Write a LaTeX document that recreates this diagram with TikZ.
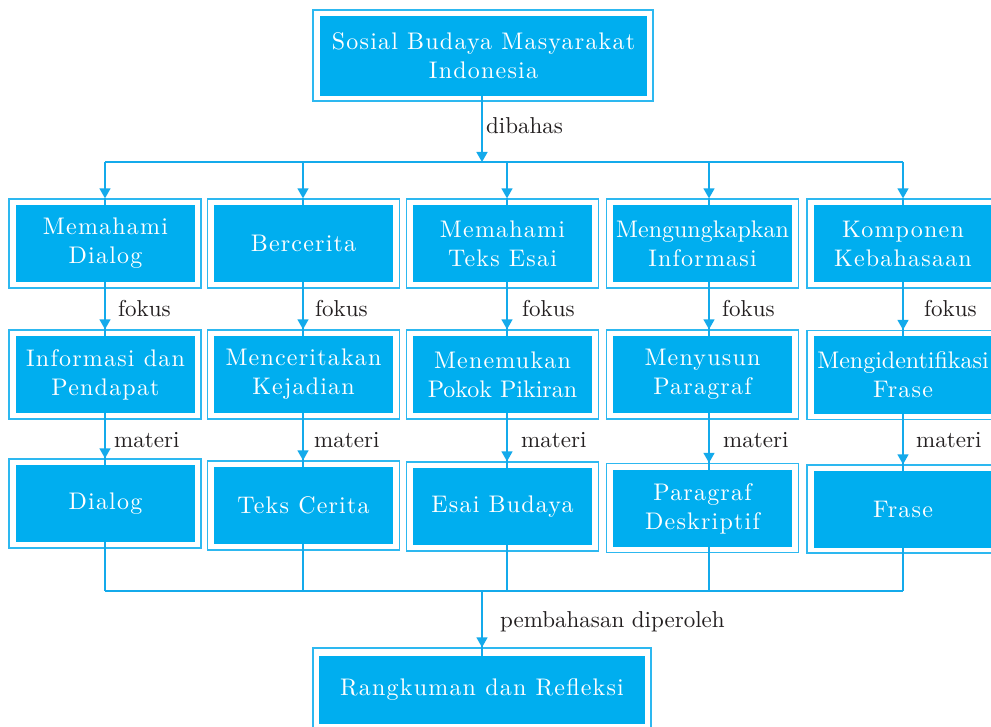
\documentclass[tikz,border=0pt]{standalone}
\usepackage{fontspec}
\setmainfont{lmroman10-regular}[Extension=.otf, BoldFont=lmroman10-bold, ItalicFont=lmroman10-italic]
\usetikzlibrary{arrows.meta}
\definecolor{boxfill}{RGB}{0,174,239}
\definecolor{boxline}{RGB}{45,184,240}
\definecolor{linecol}{RGB}{20,170,235}
\definecolor{txt}{RGB}{35,31,32}
\newcommand\bxf{\fontsize{24}{29}\selectfont\addfontfeatures{LetterSpace=5}}
\newcommand\tightf{\addfontfeatures{LetterSpace=0}}
\newcommand\lbf{\fontsize{23}{26}\selectfont}
\begin{document}
\begin{tikzpicture}[x=1pt,y=-1pt,
  outerbox/.style={draw=boxline, line width=1.3pt, minimum width=192pt, minimum height=89pt, inner sep=0pt},
  innerbox/.style={fill=boxfill, text=white, minimum width=179pt, minimum height=77pt, inner sep=0pt, align=center, font=\bxf},
  conn/.style={draw=linecol, line width=1.4pt},
  arr/.style={conn, -{Triangle[width=11pt,length=10pt]}},
  lbl/.style={text=txt, font=\lbf, anchor=base west, inner sep=0pt}]
\clip (0,0) rectangle (991,727);
\fill[white] (0,0) rectangle (991,727);

% column line positions
\coordinate (x1) at (105,0);
\coordinate (x2) at (303,0);
\coordinate (x3) at (507,0);
\coordinate (x4) at (709,0);
\coordinate (x5) at (903,0);
\coordinate (hub) at (482,162);
\coordinate (bhub) at (482,591);

% top box
\node[outerbox, minimum width=340pt, minimum height=91pt] (topO) at (483,55.5) {};
\node[innerbox, minimum width=327pt, minimum height=80pt] (top) at (483.5,56) {Sosial Budaya Masyarakat\\Indonesia};

% row 1
\node[outerbox] (r1c1o) at (105,243.5) {};
\node[innerbox] (r1c1) at (105.5,243.5) {Memahami\\Dialog};
\node[outerbox] (r1c2o) at (303.5,243.5) {};
\node[innerbox] (r1c2) at (303.5,243.5) {Bercerita};
\node[outerbox] (r1c3o) at (502.5,243.5) {};
\node[innerbox] (r1c3) at (502.5,243.5) {Memahami\\Teks Esai};
\node[outerbox] (r1c4o) at (702.5,243.5) {};
\node[innerbox] (r1c4) at (702.5,243.5) {{\tightf Mengungkapkan}\\Informasi};
\node[outerbox] (r1c5o) at (903,243.5) {};
\node[innerbox] (r1c5) at (903,243.5) {Komponen\\Kebahasaan};

% row 2
\node[outerbox] (r2c1o) at (105,374.5) {};
\node[innerbox] (r2c1) at (105.5,374.5) {Informasi dan\\Pendapat};
\node[outerbox] (r2c2o) at (303.5,374.5) {};
\node[innerbox] (r2c2) at (303.5,374.5) {Menceritakan\\Kejadian};
\node[outerbox] (r2c3o) at (502.5,374.5) {};
\node[innerbox] (r2c3) at (502.5,374.5) {Menemukan\\{\tightf Pokok Pikiran}};
\node[outerbox] (r2c4o) at (702.5,374.5) {};
\node[innerbox] (r2c4) at (702.5,374.5) {Menyusun\\Paragraf};
\node[outerbox] (r2c5o) at (903,375) {};
\node[innerbox] (r2c5) at (903,375) {{\tightf Mengidentifikasi}\\Frase};

% row 3
\node[outerbox] (r3c1o) at (105,503.5) {};
\node[innerbox] (r3c1) at (105.5,503.5) {Dialog};
\node[outerbox] (r3c2o) at (303.5,505.5) {};
\node[innerbox] (r3c2) at (303.5,505.5) {Teks Cerita};
\node[outerbox] (r3c3o) at (502.5,506.5) {};
\node[innerbox] (r3c3) at (502.5,506.5) {Esai Budaya};
\node[outerbox] (r3c4o) at (702.5,508) {};
\node[innerbox] (r3c4) at (702.5,508.5) {Paragraf\\Deskriptif};
\node[outerbox, minimum height=88pt] (r3c5o) at (903,509) {};
\node[innerbox] (r3c5) at (903,509.5) {Frase};

% bottom box
\node[outerbox, minimum width=338pt, minimum height=84pt] (botO) at (482,690) {};
\node[innerbox, minimum width=326pt, minimum height=68pt] (bot) at (482,690) {Rangkuman dan Refleksi};

% top connector
\draw[arr] (top.south -| hub) -- (hub);
\draw[conn] (hub -| x1) -- (hub -| x5);
\foreach \k in {1,...,5}{
  \draw[arr] (hub -| x\k) -- (r1c\k o.north -| x\k);
  \draw[conn] (r1c\k o.north -| x\k) -- (r1c\k.north -| x\k);
  \draw[conn] (r1c\k.south -| x\k) -- (r2c\k.north -| x\k);
  \draw[arr] (r1c\k.south -| x\k) -- (r2c\k o.north -| x\k);
  \draw[conn] (r2c\k.south -| x\k) -- (r3c\k.north -| x\k);
  \draw[arr] (r2c\k.south -| x\k) -- (r3c\k o.north -| x\k);
  \draw[conn] (r3c\k.south -| x\k) -- (bhub -| x\k);
}
\draw[conn] (bhub -| x1) -- (bhub -| x5);
\draw[conn] (bhub) -- (bot.north -| bhub);
\draw[arr] (bhub) -- (botO.north -| bhub);

% labels
\node[lbl] (l0) at (486,134) {dibahas};
\node[lbl] (f1) at (118,317) {fokus};
\node[lbl] (f2) at (315,317) {fokus};
\node[lbl] (f3) at (522,317) {fokus};
\node[lbl] (f4) at (722,317) {fokus};
\node[lbl] (f5) at (924,317) {fokus};
\node[lbl] (m1) at (114,447) {materi};
\node[lbl] (m2) at (314,447) {materi};
\node[lbl] (m3) at (521,447) {materi};
\node[lbl] (m4) at (723,447) {materi};
\node[lbl] (m5) at (916,447) {materi};
\node[lbl] (lp) at (500,627) {pembahasan diperoleh};
\end{tikzpicture}
\end{document}
